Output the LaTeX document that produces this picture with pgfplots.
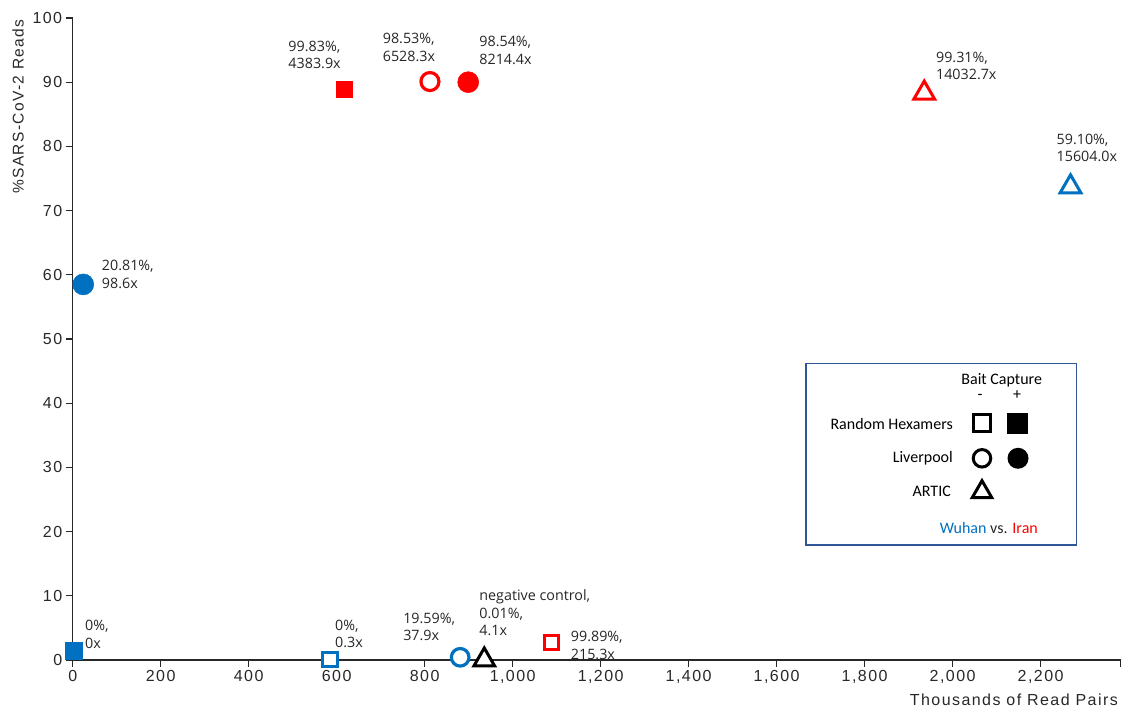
\documentclass[border=0pt]{standalone}
\usepackage{fontspec}
\usepackage{pgfplots}
\pgfplotsset{compat=1.18}
\usetikzlibrary{shapes.geometric}
\setmainfont{Liberation Sans}
\newfontfamily\axfont{Liberation Sans}[LetterSpace=9]
\newfontfamily\annfont{Open Sans}
\newfontfamily\legfont{Carlito}
\definecolor{cblue}{RGB}{0,112,192}
\definecolor{cred}{RGB}{255,0,0}
\definecolor{axgray}{RGB}{40,40,40}
\definecolor{anngray}{RGB}{38,38,38}
\definecolor{boxblue}{RGB}{47,85,151}
\tikzset{ann/.style={anchor=north west, inner sep=0pt, align=left, text=anngray,
  font=\annfont\fontsize{14.3}{17.7}\selectfont}}
\begin{document}
\begin{tikzpicture}[x=1pt,y=1pt]
\path[use as bounding box] (0,0) rectangle (1124,711);
\begin{axis}[
  at={(72.7pt,51pt)}, anchor=south west,
  scale only axis, width=1048pt, height=642pt,
  xmin=0, xmax=2382, ymin=0, ymax=100,
  axis lines*=left,
  axis line style={axgray, line width=1.2pt},
  xtick={0,200,...,2200}, ytick={0,10,...,100},
  extra x ticks={2382}, extra x tick labels={},
  tick align=outside, major tick length=7pt,
  tick style={axgray, line width=1.2pt},
  ticklabel style={font=\axfont\fontsize{16}{19}\selectfont, text=axgray},
  /pgf/number format/assume math mode=true,
  clip=false,
  only marks,
]
% Wuhan (blue)
\addplot[mark=square*, mark size=8.4pt, mark options={draw=cblue, fill=cblue, line width=0.5pt}] coordinates {(3,1.45)};
\addplot[mark=*, mark size=10.5pt, mark options={draw=cblue, fill=cblue, line width=0.5pt}] coordinates {(24,58.5)};
\addplot[mark=square*, mark size=7.1pt, mark options={draw=cblue, fill=white, line width=3pt}] coordinates {(585,0.1)};
\addplot[mark=*, mark size=8.8pt, mark options={draw=cblue, fill=white, line width=3.2pt}] coordinates {(880.7,0.42)};
\addplot[mark=triangle*, mark size=12pt, mark options={draw=cblue, fill=white, line width=3pt}] coordinates {(2268,73.7)};
% negative control
\addplot[mark=triangle*, mark size=12pt, mark options={draw=black, fill=white, line width=3pt}] coordinates {(935.5,0)};
% Iran (red)
\addplot[mark=square*, mark size=7.1pt, mark options={draw=cred, fill=white, line width=3pt}] coordinates {(1088.6,2.76)};
\addplot[mark=square*, mark size=8.4pt, mark options={draw=cred, fill=cred, line width=0.5pt}] coordinates {(617,88.9)};
\addplot[mark=*, mark size=9pt, mark options={draw=cred, fill=white, line width=3.2pt}] coordinates {(812,90.1)};
\addplot[mark=*, mark size=10.5pt, mark options={draw=cred, fill=cred, line width=0.5pt}] coordinates {(899,90.0)};
\addplot[mark=triangle*, mark size=12pt, mark options={draw=cred, fill=white, line width=3pt}] coordinates {(1935.5,88.3)};
% annotations
\node[ann] at (axis cs:490,96.5) {99.83\%,\\4383.9x};
\node[ann] at (axis cs:704.5,97.6) {98.53\%,\\6528.3x};
\node[ann] at (axis cs:924,97.2) {98.54\%,\\8214.4x};
\node[ann] at (axis cs:1962,94.75) {99.31\%,\\14032.7x};
\node[ann] at (axis cs:2236,82.0) {59.10\%,\\15604.0x};
\node[ann] at (axis cs:66,62.3) {20.81\%,\\98.6x};
\node[ann] at (axis cs:28,6.23) {0\%,\\0x};
\node[ann] at (axis cs:596,6.3) {0\%,\\0.3x};
\node[ann] at (axis cs:751,7.4) {19.59\%,\\37.9x};
\node[ann] at (axis cs:924,11.0) {negative control,\\0.01\%,\\4.1x};
\node[ann] at (axis cs:1132,4.5) {99.89\%,\\215.3x};
\end{axis}
% axis titles
\node[rotate=90, inner sep=0pt, font=\axfont\fontsize{15.5}{18}\selectfont, text=axgray] at (18,604.3) {\%SARS-CoV-2 Reads};
\node[anchor=base east, inner sep=0pt, font=\axfont\fontsize{16}{19}\selectfont, text=axgray] at (1118,5) {Thousands of Read Pairs};
% legend box
\draw[boxblue, line width=1.3pt] (806,166) rectangle (1076.7,347.7);
\begin{scope}[every node/.style={inner sep=0pt, font=\legfont\fontsize{16}{19}\selectfont}]
\node[anchor=base] at (1001.7,326.7) {Bait Capture};
\node[anchor=base] at (980,311) {-};
\node[anchor=base] at (1017,311) {+};
\node[anchor=base east] at (953,281) {Random Hexamers};
\node[anchor=base east] at (953,248.3) {Liverpool};
\node[anchor=base east] at (951,214.3) {ARTIC};
\node[anchor=base east] at (1038,177.7) {\textcolor{cblue}{Wuhan} \textcolor{anngray}{vs.} \textcolor{cred}{Iran}};
\node[draw=black, line width=3pt, fill=white, rectangle, minimum size=16.7pt] at (982.3,287.7) {};
\node[fill=black, rectangle, minimum size=21pt] at (1017.7,287.7) {};
\node[draw=black, line width=3pt, fill=white, circle, minimum size=17.5pt] at (982,252.7) {};
\node[fill=black, circle, minimum size=21pt] at (1018,252.7) {};
\node[draw=black, line width=3pt, fill=white, regular polygon, regular polygon sides=3, minimum size=22.6pt] at (982,219) {};
\end{scope}
\end{tikzpicture}
\end{document}
